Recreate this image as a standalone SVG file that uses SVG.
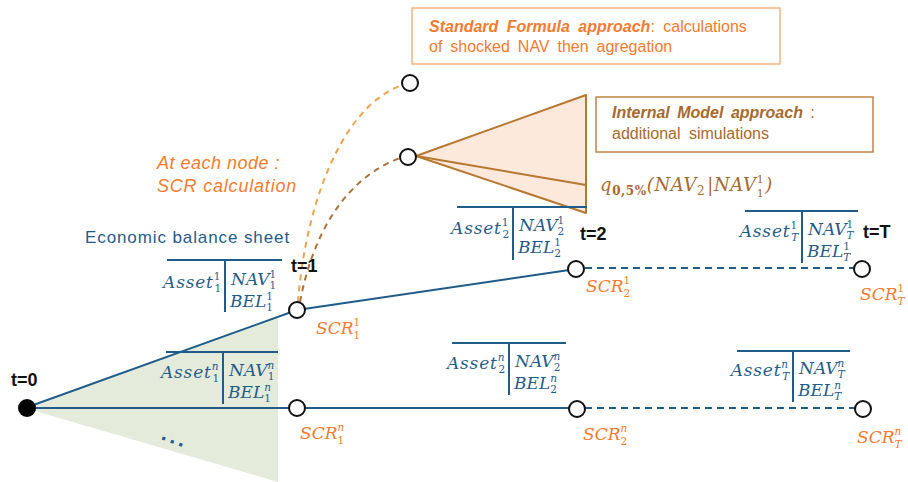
<svg xmlns="http://www.w3.org/2000/svg" width="908" height="482" viewBox="0 0 908 482">
<style>
.m{font-family:"DejaVu Serif",serif;font-style:italic;font-size:17px;fill:#1f5c8a}
.a{letter-spacing:0.8px}
.s{font-size:10.5px}
.d{font-style:normal}
.scr{fill:#f47b2e}
.bl{stroke:#1f5c8a;stroke-width:2;fill:none}
.dash{stroke-dasharray:7,5}
.nd{fill:#fff;stroke:#111;stroke-width:2}
.sans{font-family:"Liberation Sans",Arial,sans-serif}
.tl{font-family:"Liberation Sans",Arial,sans-serif;font-weight:bold;font-size:18px;fill:#111}
</style>
<rect width="908" height="482" fill="#fff"/>
<polygon id="spread" points="25,408 278,317 278,482" fill="#e5ebda"/>
<g id="fan">
<polygon points="416,156 586,95 586,213" fill="#fde8dc" stroke="#b8772f" stroke-width="2" stroke-linejoin="round"/>
<line x1="416" y1="156" x2="586" y2="185" stroke="#b8772f" stroke-width="2"/>
</g>
<g id="connectors">
<line class="bl" x1="25" y1="408" x2="297" y2="310"/>
<line class="bl" x1="25" y1="408" x2="297" y2="408"/>
<line class="bl" x1="297" y1="310" x2="576" y2="269"/>
<line class="bl" x1="297" y1="408" x2="577" y2="408"/>
<line class="bl dash" x1="585" y1="268" x2="854" y2="268"/>
<line class="bl dash" x1="585" y1="408" x2="855" y2="408"/>
<path d="M298,302 C304,220 335,110 402,85" fill="none" stroke="#f0a24e" stroke-width="2" stroke-dasharray="6,5"/>
<path d="M300,302 C312,238 342,180 400,158" fill="none" stroke="#a9743c" stroke-width="2" stroke-dasharray="6,5"/>
</g>
<g id="node-t0">
<circle cx="27" cy="408" r="9" fill="#000"/>
<text class="tl" x="11" y="386">t=0</text>
</g>
<g id="node-t1-1">
<circle class="nd" cx="297" cy="310" r="8"/>
<text class="tl" x="291" y="272">t=1</text>
<text class="m scr" x="316" y="334">SCR<tspan class="s d" dy="-8">1</tspan><tspan class="s d" dx="-6.7" dy="13">1</tspan></text>
</g>
<g id="node-t2-1">
<circle class="nd" cx="576" cy="269" r="8"/>
<text class="tl" x="580" y="240">t=2</text>
<text class="m scr" x="586" y="292">SCR<tspan class="s d" dy="-8">1</tspan><tspan class="s d" dx="-6.7" dy="13">2</tspan></text>
</g>
<g id="node-tT-1">
<circle class="nd" cx="862" cy="269" r="8"/>
<text class="tl" x="863" y="238">t=T</text>
<text class="m scr" x="860" y="300">SCR<tspan class="s d" dy="-8">1</tspan><tspan class="s" dx="-6.7" dy="13">T</tspan></text>
</g>
<g id="node-t1-n">
<circle class="nd" cx="297" cy="408" r="8"/>
<text class="m scr" x="300" y="439">SCR<tspan class="s" dy="-8">n</tspan><tspan class="s d" dx="-6.7" dy="13">1</tspan></text>
</g>
<g id="node-t2-n">
<circle class="nd" cx="577" cy="409" r="8"/>
<text class="m scr" x="583" y="440">SCR<tspan class="s" dy="-8">n</tspan><tspan class="s d" dx="-6.7" dy="13">2</tspan></text>
</g>
<g id="node-tT-n">
<circle class="nd" cx="863" cy="409" r="8"/>
<text class="m scr" x="857" y="443">SCR<tspan class="s" dy="-8">n</tspan><tspan class="s" dx="-6.7" dy="13">T</tspan></text>
</g>
<g id="node-sf">
<circle class="nd" cx="410" cy="83" r="8"/>
</g>
<g id="node-im">
<circle class="nd" cx="408" cy="157" r="8"/>
<text class="m" x="600" y="191" style="fill:#a8692c;font-size:18px;letter-spacing:0.6px">q<tspan class="d" style="font-weight:bold;font-size:12px" dy="4">0,5%</tspan><tspan dy="-4">(NAV</tspan><tspan class="d" style="font-size:12px" dy="4">2</tspan><tspan dx="2" dy="-4">|NAV</tspan><tspan class="d" style="font-size:11px" dy="-8">1</tspan><tspan class="d" style="font-size:11px" dx="-7.6" dy="14">1</tspan><tspan dx="1" dy="-6">)</tspan></text>
</g>
<g id="box-sf">
<rect x="412" y="8" width="368" height="56" fill="#fff" stroke="#f5b27a" stroke-width="1.5"/>
<text class="sans" x="429" y="32" font-size="16" fill="#f47b2e" word-spacing="4"><tspan font-weight="bold" font-style="italic">Standard Formula approach</tspan>: calculations</text>
<text class="sans" x="429" y="52" font-size="16" fill="#f47b2e" word-spacing="3.5">of shocked NAV then agregation</text>
</g>
<g id="box-im">
<rect x="596" y="97" width="277" height="55" fill="#fff" stroke="#c08444" stroke-width="1.5"/>
<text class="sans" x="612" y="118" font-size="16" fill="#a8692c" word-spacing="3"><tspan font-weight="bold" font-style="italic">Internal Model approach</tspan> :</text>
<text class="sans" x="612" y="139" font-size="16" fill="#a8692c" word-spacing="4">additional simulations</text>
</g>
<g id="label-scr">
<text class="sans" x="157" y="169" font-size="18" font-style="italic" fill="#f47b2e" letter-spacing="0.5">At each node :</text>
<text class="sans" x="157" y="192" font-size="18" font-style="italic" fill="#f47b2e" letter-spacing="0.8">SCR calculation</text>
</g>
<g id="label-ebs">
<text class="sans" x="85" y="243" font-size="17" fill="#1f5c8a" letter-spacing="0.9">Economic balance sheet</text>
</g>
<g id="bs-1-1">
<line class="bl" x1="167" y1="260" x2="282" y2="260"/>
<line class="bl" x1="225" y1="260" x2="225" y2="312"/>
<text class="m a" x="222" y="288" text-anchor="end">Asset<tspan class="s d" dy="-8">1</tspan><tspan class="s d" dx="-6.7" dy="12">1</tspan></text>
<text class="m" x="231" y="285">NAV<tspan class="s d" dy="-7">1</tspan><tspan class="s d" dx="-6.7" dy="11">1</tspan></text>
<text class="m" x="230" y="307">BEL<tspan class="s d" dy="-7">1</tspan><tspan class="s d" dx="-6.7" dy="11">1</tspan></text>
</g>
<g id="bs-2-1">
<line class="bl" x1="457" y1="207" x2="587" y2="207"/>
<line class="bl" x1="513" y1="207" x2="513" y2="260"/>
<text class="m a" x="510" y="234" text-anchor="end">Asset<tspan class="s d" dy="-8">1</tspan><tspan class="s d" dx="-6.7" dy="12">2</tspan></text>
<text class="m" x="519" y="231">NAV<tspan class="s d" dy="-7">1</tspan><tspan class="s d" dx="-6.7" dy="11">2</tspan></text>
<text class="m" x="518" y="253">BEL<tspan class="s d" dy="-7">1</tspan><tspan class="s d" dx="-6.7" dy="11">2</tspan></text>
</g>
<g id="bs-T-1">
<line class="bl" x1="745" y1="211" x2="858" y2="211"/>
<line class="bl" x1="802" y1="211" x2="802" y2="263"/>
<text class="m a" x="799" y="237" text-anchor="end">Asset<tspan class="s d" dy="-8">1</tspan><tspan class="s" dx="-6.7" dy="12">T</tspan></text>
<text class="m" x="808" y="235">NAV<tspan class="s d" dy="-7">1</tspan><tspan class="s" dx="-6.7" dy="11">T</tspan></text>
<text class="m" x="807" y="257">BEL<tspan class="s d" dy="-7">1</tspan><tspan class="s" dx="-6.7" dy="11">T</tspan></text>
</g>
<g id="bs-1-n">
<line class="bl" x1="166" y1="352" x2="278" y2="352"/>
<line class="bl" x1="223" y1="352" x2="223" y2="404"/>
<text class="m a" x="220" y="378" text-anchor="end">Asset<tspan class="s" dy="-8">n</tspan><tspan class="s d" dx="-6.7" dy="12">1</tspan></text>
<text class="m" x="229" y="376">NAV<tspan class="s" dy="-7">n</tspan><tspan class="s d" dx="-6.7" dy="11">1</tspan></text>
<text class="m" x="228" y="398">BEL<tspan class="s" dy="-7">n</tspan><tspan class="s d" dx="-6.7" dy="11">1</tspan></text>
</g>
<g id="bs-2-n">
<line class="bl" x1="452" y1="343" x2="566" y2="343"/>
<line class="bl" x1="509" y1="343" x2="509" y2="395"/>
<text class="m a" x="506" y="369" text-anchor="end">Asset<tspan class="s" dy="-8">n</tspan><tspan class="s d" dx="-6.7" dy="12">2</tspan></text>
<text class="m" x="515" y="367">NAV<tspan class="s" dy="-7">n</tspan><tspan class="s d" dx="-6.7" dy="11">2</tspan></text>
<text class="m" x="514" y="389">BEL<tspan class="s" dy="-7">n</tspan><tspan class="s d" dx="-6.7" dy="11">2</tspan></text>
</g>
<g id="bs-T-n">
<line class="bl" x1="737" y1="351" x2="850" y2="351"/>
<line class="bl" x1="793" y1="351" x2="793" y2="402"/>
<text class="m a" x="790" y="376" text-anchor="end">Asset<tspan class="s" dy="-8">n</tspan><tspan class="s" dx="-6.7" dy="12">T</tspan></text>
<text class="m" x="799" y="374">NAV<tspan class="s" dy="-7">n</tspan><tspan class="s" dx="-6.7" dy="11">T</tspan></text>
<text class="m" x="798" y="396">BEL<tspan class="s" dy="-7">n</tspan><tspan class="s" dx="-6.7" dy="11">T</tspan></text>
</g>
<text id="dots" class="sans" x="160" y="444" font-size="22" font-weight="bold" fill="#1f5c8a" letter-spacing="3" transform="rotate(20 174 442)">...</text>
</svg>
